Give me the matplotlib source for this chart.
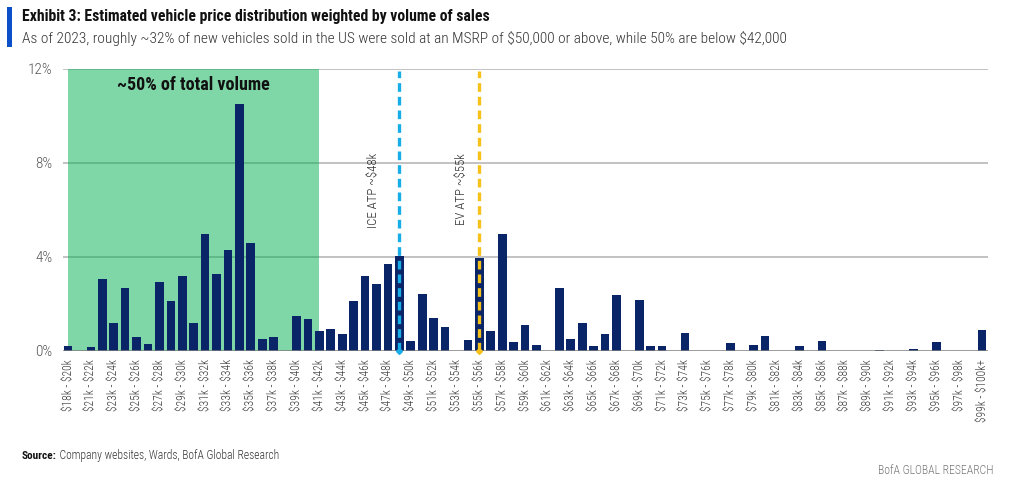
import matplotlib
matplotlib.use("Agg")
import matplotlib.pyplot as plt
from matplotlib import font_manager as fm
from matplotlib.patches import Rectangle

plt.rcParams["text.parse_math"] = False

# ---------------- data ----------------
categories = [
    "$18k - $20k", "$20k - $21k", "$21k - $22k", "$22k - $23k", "$23k - $24k", "$24k - $25k",
    "$25k - $26k", "$26k - $27k", "$27k - $28k", "$28k - $29k", "$29k - $30k", "$30k - $31k",
    "$31k - $32k", "$32k - $33k", "$33k - $34k", "$34k - $35k", "$35k - $36k", "$36k - $37k",
    "$37k - $38k", "$38k - $39k", "$39k - $40k", "$40k - $41k", "$41k - $42k", "$42k - $43k",
    "$43k - $44k", "$44k - $45k", "$45k - $46k", "$46k - $47k", "$47k - $48k", "$48k - $49k",
    "$49k - $50k", "$50k - $51k", "$51k - $52k", "$52k - $53k", "$53k - $54k", "$54k - $55k",
    "$55k - $56k", "$56k - $57k", "$57k - $58k", "$58k - $59k", "$59k - $60k", "$60k - $61k",
    "$61k - $62k", "$62k - $63k", "$63k - $64k", "$64k - $65k", "$65k - $66k", "$66k - $67k",
    "$67k - $68k", "$68k - $69k", "$69k - $70k", "$70k - $71k", "$71k - $72k", "$72k - $73k",
    "$73k - $74k", "$74k - $75k", "$75k - $76k", "$76k - $77k", "$77k - $78k", "$78k - $79k",
    "$79k - $80k", "$80k - $81k", "$81k - $82k", "$82k - $83k", "$83k - $84k", "$84k - $85k",
    "$85k - $86k", "$86k - $87k", "$87k - $88k", "$88k - $89k", "$89k - $90k", "$90k - $91k",
    "$91k - $92k", "$92k - $93k", "$93k - $94k", "$94k - $95k", "$95k - $96k", "$96k - $97k",
    "$97k - $98k", "$98k - $99k", "$99k - $100k+",
]
share_pct = [
    0.21, 0.00, 0.17, 3.06, 1.19, 2.67, 0.61, 0.30, 2.92, 2.13,
    3.21, 1.19, 4.96, 3.26, 4.30, 10.50, 4.61, 0.51, 0.58, 0.00,
    1.49, 1.35, 0.85, 0.95, 0.72, 2.11, 3.18, 2.87, 3.69, 4.03,
    0.43, 2.43, 1.42, 1.04, 0.00, 0.47, 3.96, 0.85, 4.98, 0.40,
    1.11, 0.27, 0.00, 2.67, 0.50, 1.19, 0.21, 0.72, 2.40, 0.00,
    2.16, 0.21, 0.21, 0.00, 0.75, 0.00, 0.00, 0.00, 0.35, 0.00,
    0.24, 0.65, 0.00, 0.00, 0.21, 0.00, 0.41, 0.00, 0.00, 0.00,
    0.00, 0.03, 0.00, 0.00, 0.08, 0.00, 0.38, 0.00, 0.00, 0.00,
    0.88,
]
yticks = [0, 4, 8, 12]
ytick_labels = ["0%", "4%", "8%", "12%"]
ice_category = "$48k - $49k"
ev_category = "$55k - $56k"
ice_label = "ICE ATP ~$48k"
ev_label = "EV ATP ~$55k"
half_volume_from = "$18k - $20k"
half_volume_to = "$41k - $42k"
half_volume_label = "~50% of total volume"

title = "Exhibit 3: Estimated vehicle price distribution weighted by volume of sales"
subtitle = ("As of 2023, roughly ~32% of new vehicles sold in the US were sold at an MSRP "
            "of $50,000 or above, while 50% are below $42,000")
source_bold = "Source:"
source_rest = " Company websites, Wards, BofA Global Research"
brand = "BofA GLOBAL RESEARCH"

# ---------------- fonts ----------------
avail = {f.name for f in fm.fontManager.ttflist}
narrow = None
for n in ["Liberation Sans Narrow", "Roboto Condensed", "Open Sans Condensed", "DejaVu Sans Condensed"]:
    if n in avail:
        narrow = n
        break
if narrow is None:
    narrow = "Roboto"
    k = 0.85
else:
    k = 1.0
plt.rcParams["font.family"] = [narrow, "DejaVu Sans"]
LIGHT = "light"

NAVY = "#0a2468"
GREEN = "#00b050"
ICE = "#17ade8"
EV = "#f6c21a"
TXT = "#3a3a3a"

W, H = 1024, 493
fig = plt.figure(figsize=(W / 100, H / 100), dpi=100)
ax = fig.add_axes([63 / W, 1 - 351 / H, (988 - 63) / W, (351 - 69) / H])

x = list(range(len(categories)))
ax.set_xlim(-0.44, 80.52)
ax.set_ylim(0, 12)

# gridlines
for v in yticks[1:]:
    ax.axhline(v, color="#bdbdbd", lw=1.3, zorder=1)

# shaded half-volume region
i0 = categories.index(half_volume_from)
i1 = categories.index(half_volume_to)
ax.axvspan(i0, i1, ymin=0, ymax=1, color=GREEN, alpha=0.5, lw=0, zorder=2)

ax.bar(x, share_pct, width=0.76, color=NAVY, zorder=3)

ax.axhline(0, color="#7f7f7f", lw=1.8, zorder=6)

# ATP lines
xi = categories.index(ice_category)
xe = categories.index(ev_category)
for xv, col in [(xi, ICE), (xe, EV)]:
    ax.plot([xv, xv], [0, 11.92], color=col, lw=2.4, dashes=(2.6, 1.5),
            solid_capstyle="butt", dash_capstyle="butt", zorder=5)
    ax.plot([xv], [0], marker="D", ms=3, color=col, zorder=7, clip_on=False)

ax.text(xi - 2.25, 8.43, ice_label, rotation=90, ha="center", va="top",
        fontsize=9.3 * k, color="#2a2a2a", zorder=8, fontweight=LIGHT)
ax.text(xe - 1.55, 8.43, ev_label, rotation=90, ha="center", va="top",
        fontsize=9.3 * k, color="#2a2a2a", zorder=8, fontweight=LIGHT)

ax.text(11, 11.3, half_volume_label, ha="center", va="center",
        fontsize=13 * k, fontweight="bold", color="#111111", zorder=8)

# axes styling
for s in ax.spines.values():
    s.set_visible(False)
ax.set_yticks(yticks)
ax.set_yticklabels(ytick_labels, fontweight=LIGHT)
ax.set_xticks(x[::2])
ax.set_xticklabels(categories[::2], rotation=90, va="top", ha="center", fontweight=LIGHT)
ax.tick_params(axis="both", length=0, colors=TXT)
ax.tick_params(axis="x", labelsize=8.3 * k, pad=6)
ax.tick_params(axis="y", labelsize=11 * k, pad=7.5)
for lab in ax.get_yticklabels():
    lab.set_color("#555555")

# header
fig.add_artist(Rectangle((7 / W, 1 - 47 / H), 5 / W, 40 / H, transform=fig.transFigure,
                         color="#0b50c8", lw=0))
fig.text(22 / W, 1 - 17 / H, title, fontsize=11.3 * k, fontweight="bold",
         color="#111111", va="center", ha="left")
fig.text(22 / W, 1 - 38 / H, subtitle, fontsize=11.1 * k, color="#333333",
         va="center", ha="left", fontweight=LIGHT)

# footer
t = fig.text(22 / W, 1 - 456 / H, source_bold, fontsize=8.2 * k, fontweight="bold",
             color="#111111", va="center", ha="left")
fig.canvas.draw()
bb = t.get_window_extent()
fig.text(bb.x1 / W, 1 - 456 / H, source_rest, fontsize=8.3 * k, color="#333333",
         va="center", ha="left", fontweight=LIGHT)
fig.text(993 / W, 1 - 471 / H, brand, fontsize=8.5 * k, color="#777777",
         va="center", ha="right", fontweight=LIGHT)

fig.savefig("out.png", dpi=100)
